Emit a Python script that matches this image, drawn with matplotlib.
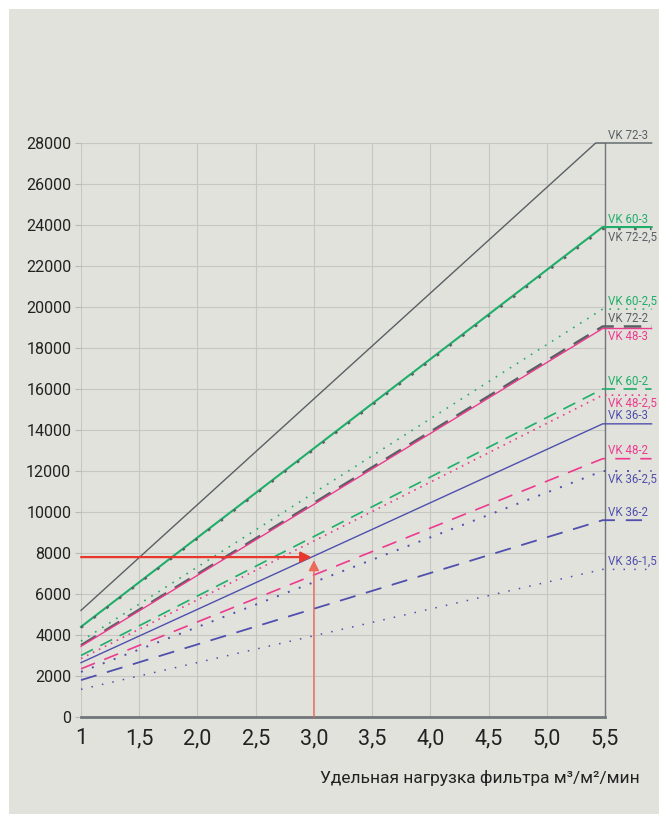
import matplotlib
matplotlib.use("Agg")
import matplotlib.pyplot as plt
from matplotlib.patches import Rectangle
import numpy as np

# series: name, value at x=1, value on the plateau, x where it levels off
names = ["VK 72-3", "VK 60-3", "VK 72-2,5", "VK 60-2,5", "VK 72-2", "VK 48-3",
         "VK 60-2", "VK 48-2,5", "VK 36-3", "VK 48-2", "VK 36-2,5", "VK 36-2",
         "VK 36-1,5"]
start_vals = [5200, 4400, 4350, 3700, 3500, 3450, 3000, 2850, 2650, 2350, 2200, 1800, 1350]
end_vals = [28000, 23900, 23800, 19900, 19050, 18950, 16000, 15700, 14300, 12600, 12000, 9600, 7200]
knee_x = [5.42, 5.48, 5.48, 5.48, 5.48, 5.48, 5.48, 5.48, 5.48, 5.48, 5.48, 5.48, 5.48]
flat_to = 5.9

x_ticks = [1, 1.5, 2.0, 2.5, 3.0, 3.5, 4.0, 4.5, 5.0, 5.5]
x_ticklabels = ["1", "1,5", "2,0", "2,5", "3,0", "3,5", "4,0", "4,5", "5,0", "5,5"]
y_ticks = list(range(0, 28001, 2000))

# example point (red arrows)
ex_x = 3.0
ex_y = 7800

GRAY = "#596064"
GREEN = "#1fae6a"
PINK = "#ec3b8e"
BLUE = "#4f4fae"
RED = "#e8372c"
BG = "#e2e2dc"

colors = [GRAY, GREEN, GRAY, GREEN, GRAY, PINK, GREEN, PINK, BLUE, PINK, BLUE, BLUE, BLUE]
styles = ["-", "-", (0, (1.2, 6)), (0, (1, 4)), (0, (7, 4)), "-",
          (0, (8, 5)), (0, (1, 3)), "-", (0, (9, 6)), (0, (1, 5)), (0, (9, 6)), (0, (1, 6))]
widths = [1.0, 1.5, 1.6, 1.2, 1.8, 1.0, 1.2, 1.2, 1.0, 1.2, 1.4, 1.3, 1.1]
label_above = [True, True, False, True, True, False, True, False, True, True, False, True, True]

FONT = ["Roboto", "DejaVu Sans"]

fig = plt.figure(figsize=(6.59, 8.14), dpi=100)
fig.patch.set_facecolor("white")
fig.patches.append(Rectangle((9 / 659, 0), 1, 1 - 9 / 814, transform=fig.transFigure,
                             facecolor=BG, edgecolor="none", zorder=-10))

ax = fig.add_axes([81 / 659, 1 - 717 / 814, 524 / 659, 574 / 814])
ax.set_facecolor(BG)
ax.patch.set_alpha(0)

for i in range(len(names)):
    xs = [1, knee_x[i], flat_to]
    ys = [start_vals[i], end_vals[i], end_vals[i]]
    ax.plot(xs, ys, color=colors[i], linestyle=styles[i], linewidth=widths[i],
            clip_on=False, zorder=3)
    if label_above[i]:
        ax.annotate(names[i], (5.53, end_vals[i]), xytext=(0, 1), textcoords="offset points",
                    ha="left", va="bottom", fontsize=8.3, color=colors[i], family=FONT,
                    annotation_clip=False)
    else:
        ax.annotate(names[i], (5.53, end_vals[i]), xytext=(0, -1), textcoords="offset points",
                    ha="left", va="top", fontsize=8.3, color=colors[i], family=FONT,
                    annotation_clip=False)

# red arrows
ax.annotate("", xy=(ex_x - 0.02, ex_y), xytext=(1, ex_y),
            arrowprops=dict(arrowstyle="-|>", color=RED, lw=1.6, mutation_scale=16,
                            shrinkA=0, shrinkB=0), zorder=5)
ax.annotate("", xy=(ex_x, ex_y - 150), xytext=(ex_x, 0),
            arrowprops=dict(arrowstyle="-|>", color="#ec6a5a", lw=1.0, mutation_scale=16,
                            shrinkA=0, shrinkB=0), zorder=5)

ax.set_xlim(1, 5.5)
ax.set_ylim(0, 28000)
ax.set_xticks(x_ticks)
ax.set_xticklabels(x_ticklabels, fontsize=15.5, family=FONT, color="#222222")
ax.set_yticks(y_ticks)
ax.set_yticklabels([str(v) for v in y_ticks], fontsize=11.5, family=FONT, color="#222222")
ax.tick_params(axis="x", length=0, pad=8)
ax.tick_params(axis="y", length=4, width=0.8, color="#b8b8b4", pad=3)
ax.grid(True, color="#c6c6c2", linewidth=0.8, zorder=0)
ax.set_axisbelow(True)

ax.spines["top"].set_visible(False)
ax.spines["left"].set_visible(False)
ax.spines["bottom"].set_color("#707679")
ax.spines["bottom"].set_linewidth(2.0)
ax.spines["right"].set_color("#707679")
ax.spines["right"].set_linewidth(1.0)

fig.text(640 / 659, 1 - 778 / 814, "Удельная нагрузка фильтра м³/м²/мин",
         ha="right", va="center", fontsize=12.5, family=FONT, color="#222222")

fig.savefig("out.png", dpi=100, facecolor=fig.get_facecolor())
